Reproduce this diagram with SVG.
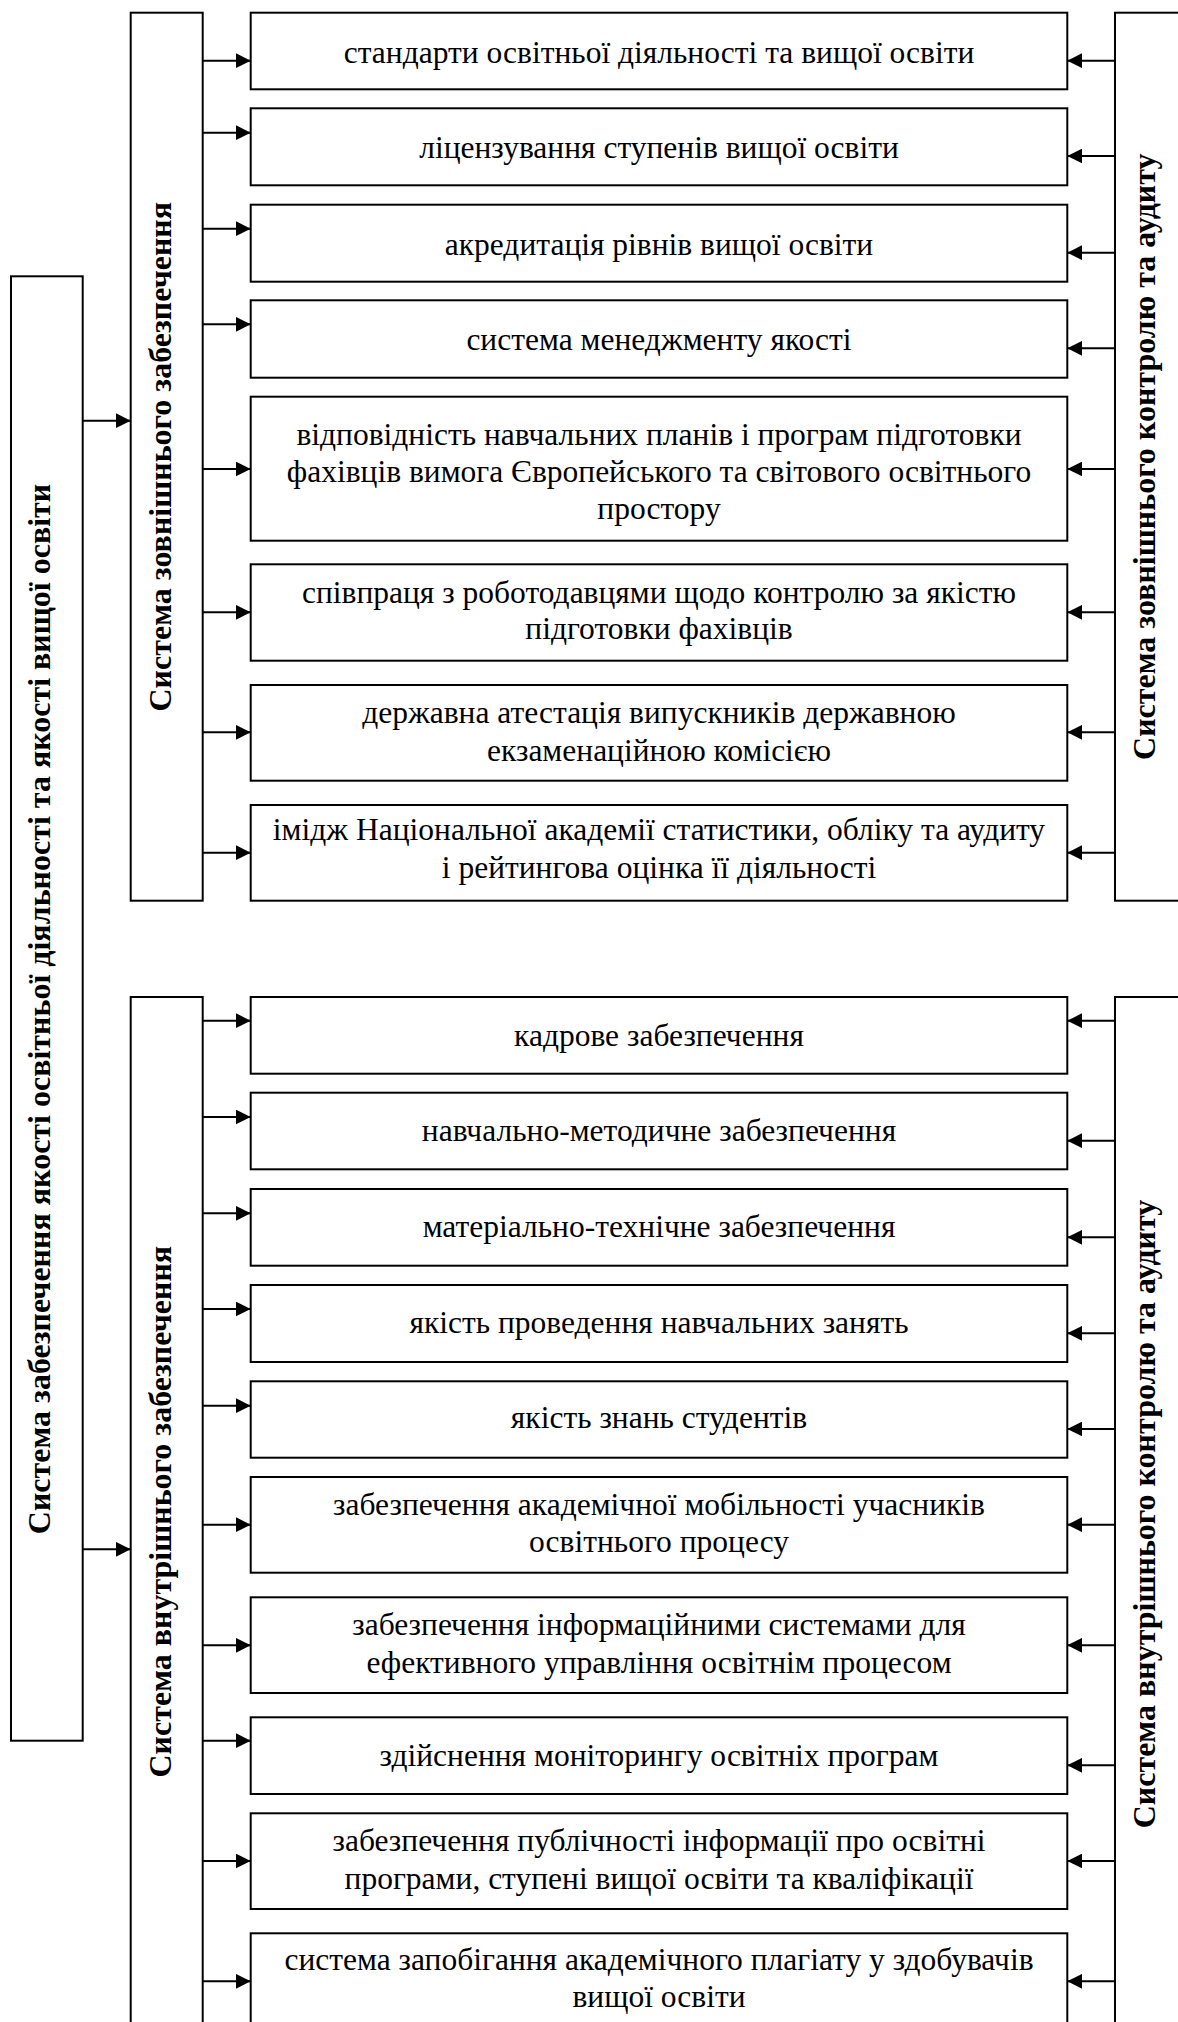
<svg xmlns="http://www.w3.org/2000/svg" width="1178" height="2022" viewBox="0 0 1178 2022">
<style>
.box{fill:#fff;stroke:#000;stroke-width:2}
.t{font-family:"Liberation Serif","Times New Roman",serif;font-size:31.5px;fill:#000;text-anchor:middle}
.v{font-family:"Liberation Serif","Times New Roman",serif;font-size:32px;font-weight:bold;fill:#000;text-anchor:middle}
.c line{stroke:#000;stroke-width:2;marker-end:url(#ah)}
</style>
<defs>
<marker id="ah" markerUnits="userSpaceOnUse" markerWidth="15" markerHeight="15" refX="15" refY="7.5" orient="auto">
<path d="M0,0 L15,7.5 L0,15 z" fill="#000"/>
</marker>
</defs>
<rect width="1178" height="2022" fill="#fff"/>

<g id="main">
<rect class="box" x="11" y="276.3" width="71.7" height="1464.4"/>
<text class="v" transform="translate(50,1009) rotate(-90)">Система забезпечення якості освітньої діяльності та якості вищої освіти</text>
</g>

<g id="ext-assurance">
<rect class="box" x="130.7" y="12.7" width="72" height="888"/>
<text class="v" transform="translate(171,456.7) rotate(-90)">Система зовнішнього забезпечення</text>
</g>
<g id="int-assurance">
<rect class="box" x="130.7" y="997" width="72" height="1040"/>
<text class="v" transform="translate(171,1511.7) rotate(-90)">Система внутрішнього забезпечення</text>
</g>
<g id="ext-control">
<rect class="box" x="1115" y="12.7" width="90" height="888"/>
<text class="v" transform="translate(1155,456.7) rotate(-90)">Система зовнішнього контролю та аудиту</text>
</g>
<g id="int-control">
<rect class="box" x="1115" y="997" width="90" height="1040"/>
<text class="v" transform="translate(1155,1514) rotate(-90)">Система внутрішнього контролю та аудиту</text>
</g>

<g id="u1"><rect class="box" x="250.7" y="12.7" width="816.6" height="76.6"/><text class="t" x="659" y="63">стандарти освітньої діяльності та вищої освіти</text></g>
<g id="u2"><rect class="box" x="250.7" y="108.3" width="816.6" height="77"/><text class="t" x="659" y="158.3">ліцензування ступенів вищої освіти</text></g>
<g id="u3"><rect class="box" x="250.7" y="204.7" width="816.6" height="77"/><text class="t" x="659" y="255">акредитація рівнів вищої освіти</text></g>
<g id="u4"><rect class="box" x="250.7" y="300.3" width="816.6" height="77.4"/><text class="t" x="659" y="350.3">система менеджменту якості</text></g>
<g id="u5"><rect class="box" x="250.7" y="396.7" width="816.6" height="144"/><text class="t" x="659" y="445">відповідність навчальних планів і програм підготовки</text><text class="t" x="659" y="481.7">фахівців вимога Європейського та світового освітнього</text><text class="t" x="659" y="518.5">простору</text></g>
<g id="u6"><rect class="box" x="250.7" y="564.3" width="816.6" height="96.4"/><text class="t" x="659" y="602.7">співпраця з роботодавцями щодо контролю за якістю</text><text class="t" x="659" y="639.3">підготовки фахівців</text></g>
<g id="u7"><rect class="box" x="250.7" y="685" width="816.6" height="95.7"/><text class="t" x="659" y="722.7">державна атестація випускників державною</text><text class="t" x="659" y="760.7">екзаменаційною комісією</text></g>
<g id="u8"><rect class="box" x="250.7" y="805" width="816.6" height="95.7"/><text class="t" x="659" y="840">імідж Національної академії статистики, обліку та аудиту</text><text class="t" x="659" y="878">і рейтингова оцінка її діяльності</text></g>

<g id="l1"><rect class="box" x="250.7" y="997" width="816.6" height="76.7"/><text class="t" x="659" y="1045.7">кадрове забезпечення</text></g>
<g id="l2"><rect class="box" x="250.7" y="1092.7" width="816.6" height="76.6"/><text class="t" x="659" y="1140.7">навчально-методичне забезпечення</text></g>
<g id="l3"><rect class="box" x="250.7" y="1189" width="816.6" height="76.7"/><text class="t" x="659" y="1237.3">матеріально-технічне забезпечення</text></g>
<g id="l4"><rect class="box" x="250.7" y="1285" width="816.6" height="77"/><text class="t" x="659" y="1332.7">якість проведення навчальних занять</text></g>
<g id="l5"><rect class="box" x="250.7" y="1381.3" width="816.6" height="76.4"/><text class="t" x="659" y="1428.3">якість знань студентів</text></g>
<g id="l6"><rect class="box" x="250.7" y="1477" width="816.6" height="95.7"/><text class="t" x="659" y="1515">забезпечення академічної мобільності учасників</text><text class="t" x="659" y="1552">освітнього процесу</text></g>
<g id="l7"><rect class="box" x="250.7" y="1597.3" width="816.6" height="95.7"/><text class="t" x="659" y="1635">забезпечення інформаційними системами для</text><text class="t" x="659" y="1673">ефективного управління освітнім процесом</text></g>
<g id="l8"><rect class="box" x="250.7" y="1717.3" width="816.6" height="76.7"/><text class="t" x="659" y="1765.7">здійснення моніторингу освітніх програм</text></g>
<g id="l9"><rect class="box" x="250.7" y="1813.3" width="816.6" height="95.7"/><text class="t" x="659" y="1850.7">забезпечення публічності інформації про освітні</text><text class="t" x="659" y="1889">програми, ступені вищої освіти та кваліфікації</text></g>
<g id="l10"><rect class="box" x="250.7" y="1933.3" width="816.6" height="110"/><text class="t" x="659" y="1970">система запобігання академічного плагіату у здобувачів</text><text class="t" x="659" y="2007">вищої освіти</text></g>

<g id="connectors" class="c">
<line x1="82.7" y1="420.7" x2="130.7" y2="420.7"/>
<line x1="82.7" y1="1549.3" x2="130.7" y2="1549.3"/>

<line x1="202.7" y1="60.7" x2="250.7" y2="60.7"/>
<line x1="202.7" y1="132.7" x2="250.7" y2="132.7"/>
<line x1="202.7" y1="228.7" x2="250.7" y2="228.7"/>
<line x1="202.7" y1="324.3" x2="250.7" y2="324.3"/>
<line x1="202.7" y1="469" x2="250.7" y2="469"/>
<line x1="202.7" y1="612.3" x2="250.7" y2="612.3"/>
<line x1="202.7" y1="732.3" x2="250.7" y2="732.3"/>
<line x1="202.7" y1="852.7" x2="250.7" y2="852.7"/>

<line x1="1115" y1="60.7" x2="1067.3" y2="60.7"/>
<line x1="1115" y1="156" x2="1067.3" y2="156"/>
<line x1="1115" y1="252.7" x2="1067.3" y2="252.7"/>
<line x1="1115" y1="348.3" x2="1067.3" y2="348.3"/>
<line x1="1115" y1="469" x2="1067.3" y2="469"/>
<line x1="1115" y1="612.3" x2="1067.3" y2="612.3"/>
<line x1="1115" y1="732.3" x2="1067.3" y2="732.3"/>
<line x1="1115" y1="852.7" x2="1067.3" y2="852.7"/>

<line x1="202.7" y1="1020.7" x2="250.7" y2="1020.7"/>
<line x1="202.7" y1="1117" x2="250.7" y2="1117"/>
<line x1="202.7" y1="1213.3" x2="250.7" y2="1213.3"/>
<line x1="202.7" y1="1309" x2="250.7" y2="1309"/>
<line x1="202.7" y1="1405.7" x2="250.7" y2="1405.7"/>
<line x1="202.7" y1="1524.7" x2="250.7" y2="1524.7"/>
<line x1="202.7" y1="1645.3" x2="250.7" y2="1645.3"/>
<line x1="202.7" y1="1740.7" x2="250.7" y2="1740.7"/>
<line x1="202.7" y1="1861" x2="250.7" y2="1861"/>
<line x1="202.7" y1="1981.3" x2="250.7" y2="1981.3"/>

<line x1="1115" y1="1020.7" x2="1067.3" y2="1020.7"/>
<line x1="1115" y1="1140.7" x2="1067.3" y2="1140.7"/>
<line x1="1115" y1="1237.3" x2="1067.3" y2="1237.3"/>
<line x1="1115" y1="1333.3" x2="1067.3" y2="1333.3"/>
<line x1="1115" y1="1429" x2="1067.3" y2="1429"/>
<line x1="1115" y1="1524.7" x2="1067.3" y2="1524.7"/>
<line x1="1115" y1="1645.3" x2="1067.3" y2="1645.3"/>
<line x1="1115" y1="1765.3" x2="1067.3" y2="1765.3"/>
<line x1="1115" y1="1861" x2="1067.3" y2="1861"/>
<line x1="1115" y1="1981.3" x2="1067.3" y2="1981.3"/>
</g>
</svg>
